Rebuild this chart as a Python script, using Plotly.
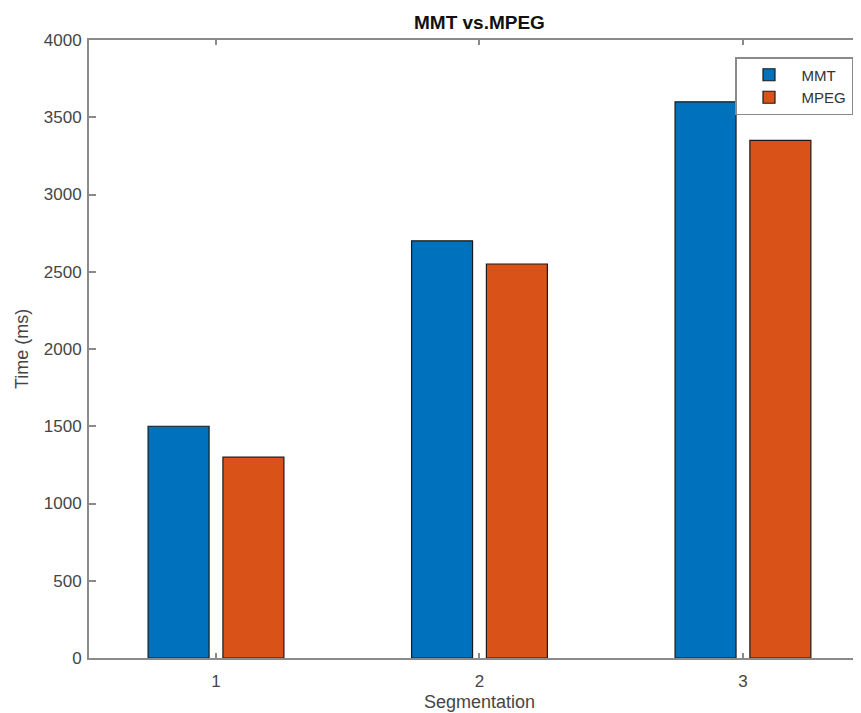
import plotly.graph_objects as go

categories = [1, 2, 3]
tick_labels = ["1", "2", "3"]
mmt = [1500, 2700, 3600]
mpeg = [1300, 2550, 3350]
y_ticks = [0, 500, 1000, 1500, 2000, 2500, 3000, 3500, 4000]

BLUE = "#0072BD"
ORANGE = "#D95319"
AXIS = "#8a8a8a"
TXT = "#454545"
FONT = "Liberation Sans"

bw = 0.2315
off = 0.142

fig = go.Figure()
fig.add_trace(go.Bar(x=categories, y=mmt, name="MMT", width=bw, offset=-off - bw / 2,
                     marker=dict(color=BLUE, line=dict(color="#1a1a1a", width=1.2))))
fig.add_trace(go.Bar(x=categories, y=mpeg, name="MPEG", width=bw, offset=off - bw / 2,
                     marker=dict(color=ORANGE, line=dict(color="#1a1a1a", width=1.2))))

# page body offset of the browser (~8px) is compensated here
OFS = 8
W, H = 861 - OFS, 713 - OFS
L, T = 89 - OFS, 40 - OFS
ph = 618
B = H - T - ph
pw = W - L


def px_x(page_x):
    return (page_x - OFS - L) / pw


def px_y(page_y):
    return (T + ph - (page_y - OFS)) / ph


fig.update_layout(
    width=W, height=H,
    margin=dict(l=L, r=0, t=T, b=B, pad=0),
    paper_bgcolor="white", plot_bgcolor="white",
    barmode="overlay",
    font=dict(family=FONT, color=TXT, size=17),
    showlegend=True,
    legend=dict(x=px_x(735), y=px_y(57), xanchor="left", yanchor="top",
                bgcolor="white", bordercolor=AXIS, borderwidth=1.5,
                font=dict(family=FONT, size=15, color="#333333"),
                tracegroupgap=0, itemwidth=55),
    xaxis=dict(range=[0.518, 3.448], tickmode="array", tickvals=categories, ticktext=tick_labels,
               showline=True, linecolor=AXIS, linewidth=2, mirror="allticks",
               ticks="inside", ticklen=5, tickcolor=AXIS, tickwidth=1.5,
               showgrid=False, zeroline=False, ticklabelstandoff=7,
               tickfont=dict(family=FONT, size=17, color=TXT), fixedrange=True),
    yaxis=dict(range=[0, 4000], tickmode="array", tickvals=y_ticks,
               showline=True, linecolor=AXIS, linewidth=2, mirror=False,
               ticks="inside", ticklen=7, tickcolor=AXIS, tickwidth=1.5,
               showgrid=False, zeroline=False, ticklabelstandoff=2,
               tickfont=dict(family=FONT, size=17, color=TXT), fixedrange=True),
    annotations=[
        dict(text="<b>MMT vs.MPEG</b>", xref="paper", yref="paper",
             x=px_x(479), y=px_y(22), xanchor="center", yanchor="middle",
             showarrow=False, font=dict(family=FONT, size=19, color="#111111")),
        dict(text="Segmentation", xref="paper", yref="paper",
             x=px_x(479), y=px_y(702), xanchor="center", yanchor="middle",
             showarrow=False, font=dict(family=FONT, size=18, color=TXT)),
        dict(text="Time (ms)", xref="paper", yref="paper",
             x=px_x(22), y=px_y(349), xanchor="center", yanchor="middle", textangle=-90,
             showarrow=False, font=dict(family=FONT, size=18, color=TXT)),
    ],
)

fig.write_html("out.html")
